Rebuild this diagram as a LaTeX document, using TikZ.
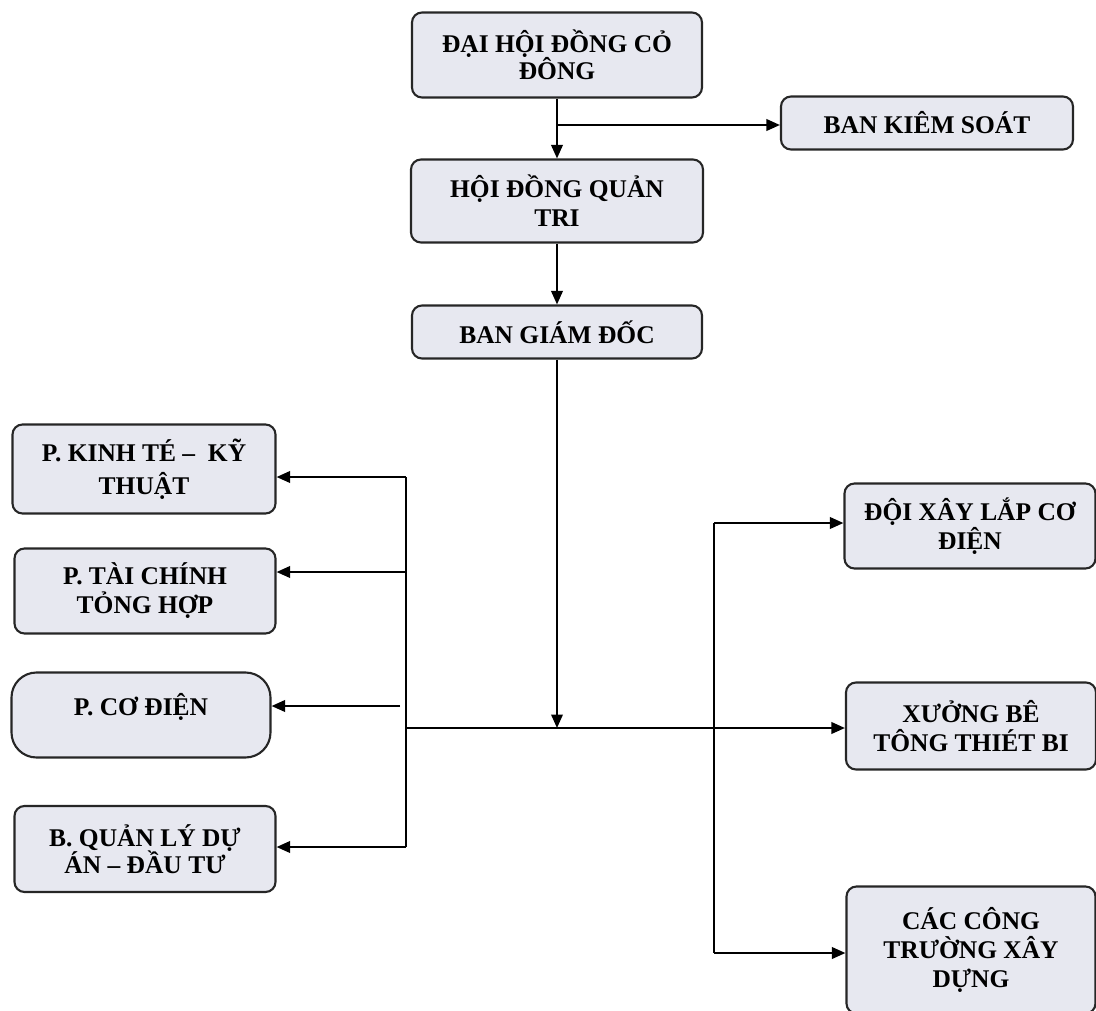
\documentclass[tikz,border=0pt]{standalone}
\usepackage{fontspec}
\setmainfont{Liberation Serif}
\usetikzlibrary{arrows.meta}
\definecolor{boxfill}{RGB}{231,232,240}
\newcommand{\pxscl}{0.02}
\newcommand{\coordpx}[1]{#1*\pxscl}
\newcommand{\lenpx}[1]{#1*\pxscl*1cm}
\newcommand{\bx}{\node[box]}
\tikzset{
    box/.style={draw=black!85, line width=1.2pt, fill=boxfill, rounded corners=\lenpx{10},
        align=center, inner sep=2pt, font=\bfseries\fontsize{14.5}{16.5}\selectfont},
    arr/.style={-{Triangle[length=2.7mm, width=2.3mm]}}
}
\begin{document}
\begin{tikzpicture}[line width=1.2pt]
            \useasboundingbox (0,0) rectangle (\coordpx{1096}, -\coordpx{1011});

            \bx[minimum width=\lenpx{290}, minimum height=\lenpx{85}] (dhcd) at (\coordpx{557}, -\coordpx{55}) {ĐẠI HỘI ĐỒNG CỎ\\[-1pt]ĐÔNG};
            \bx[minimum width=\lenpx{292}, minimum height=\lenpx{53}] (bks) at (\coordpx{927}, -\coordpx{123}) {BAN KIÊM SOÁT};
            \bx[minimum width=\lenpx{292}, minimum height=\lenpx{83}] (hdqt) at (\coordpx{557}, -\coordpx{201}) {HỘI ĐỒNG QUẢN\\TRI};
            \bx[minimum width=\lenpx{290}, minimum height=\lenpx{53}] (bgd) at (\coordpx{557}, -\coordpx{332}) {BAN GIÁM ĐỐC};
            \bx[minimum width=\lenpx{263}, minimum height=\lenpx{89}] (pkt) at (\coordpx{144}, -\coordpx{469}) {P. KINH TÉ –\ \ KỸ\\[2pt]THUẬT};
            \bx[minimum width=\lenpx{261}, minimum height=\lenpx{85}] (ptc) at (\coordpx{145}, -\coordpx{591}) {P. TÀI CHÍNH\\TỎNG HỢP};
            \bx[minimum width=\lenpx{259}, minimum height=\lenpx{85}, rounded corners=\lenpx{25}] (pcd) at (\coordpx{141}, -\coordpx{715}) {P. CƠ ĐIỆN\\[-4pt]\mbox{}};
            \bx[minimum width=\lenpx{261}, minimum height=\lenpx{86}] (bqlda) at (\coordpx{145}, -\coordpx{849}) {B. QUẢN LÝ DỰ\\[-1pt]ÁN – ĐẦU TƯ};
            \bx[minimum width=\lenpx{251}, minimum height=\lenpx{85}] (dxl) at (\coordpx{970}, -\coordpx{526}) {ĐỘI XÂY LẮP CƠ\\ĐIỆN};
            \bx[minimum width=\lenpx{250}, minimum height=\lenpx{87}] (xbt) at (\coordpx{971}, -\coordpx{726}) {XƯỞNG BÊ\\TÔNG THIÉT BI};
            \bx[minimum width=\lenpx{249}, minimum height=\lenpx{127}] (cct) at (\coordpx{971}, -\coordpx{950}) {CÁC CÔNG\\TRƯỜNG XÂY\\DỰNG};

            \coordinate (ks) at (\coordpx{557}, -\coordpx{125});
            \coordinate (hub) at (\coordpx{557}, -\coordpx{728});
            \coordinate (lb0) at (\coordpx{406}, -\coordpx{728});
            \coordinate (lb1) at (\coordpx{406}, -\coordpx{477});
            \coordinate (lb2) at (\coordpx{406}, -\coordpx{572});
            \coordinate (lb3) at (\coordpx{400}, -\coordpx{706});
            \coordinate (lb4) at (\coordpx{406}, -\coordpx{847});
            \coordinate (rb1) at (\coordpx{714}, -\coordpx{523});
            \coordinate (rb3) at (\coordpx{714}, -\coordpx{953});

            \draw[arr] (dhcd) -- (hdqt);
            \draw[arr] (ks) -- (ks -| bks.west);
            \draw[arr] (hdqt) -- (bgd);
            \draw[arr] (bgd) -- (hub);
            \draw[arr] (lb0) -- (lb0 -| xbt.west);

            \draw
                (lb1) -- (lb4)
                (rb1) -- (rb3)
                ;

            \draw[arr] (lb1) -- (lb1 -| pkt.east);
            \draw[arr] (lb2) -- (lb2 -| ptc.east);
            \draw[arr] (lb3) -- (lb3 -| pcd.east);
            \draw[arr] (lb4) -- (lb4 -| bqlda.east);
            \draw[arr] (rb1) -- (rb1 -| dxl.west);
            \draw[arr] (rb3) -- (rb3 -| cct.west);
        \end{tikzpicture}
\end{document}
